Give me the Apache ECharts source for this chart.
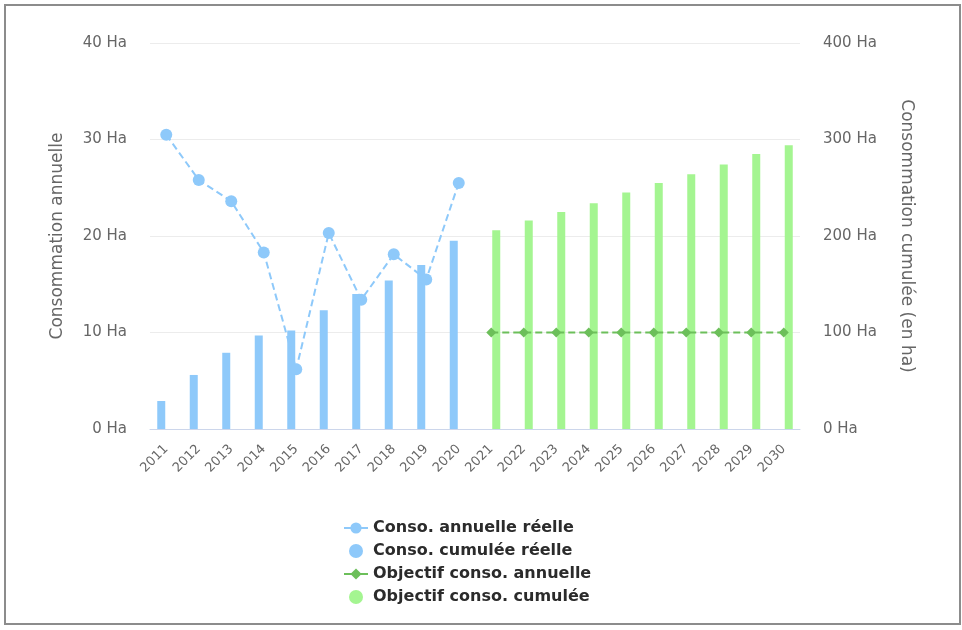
<!DOCTYPE html>
<html>
<head>
<meta charset="utf-8">
<script src="https://cdn.jsdelivr.net/npm/echarts@6/dist/echarts.min.js"></script>
<style>
  html, body { margin: 0; padding: 0; background: #fff; }
  #frame { position: absolute; left: 4px; top: 4px; width: 953px; height: 617px; border: 2px solid #8c8c8c; }
  #chart { position: absolute; left: 0; top: 0; width: 962px; height: 630px; }
</style>
</head>
<body>
<div id="frame"></div>
<div id="chart"></div>
<script>
// données
const years = ['2011','2012','2013','2014','2015','2016','2017','2018','2019','2020',
               '2021','2022','2023','2024','2025','2026','2027','2028','2029','2030'];
const annuelleReelle = [30.5, 25.8, 23.6, 18.3, 6.2, 20.3, 13.4, 18.1, 15.5, 25.5,
                        null, null, null, null, null, null, null, null, null, null];
const cumuleeReelle = [29, 56, 79, 97, 102, 123, 140, 154, 170, 195,
                       null, null, null, null, null, null, null, null, null, null];
const objectifAnnuelle = [null, null, null, null, null, null, null, null, null, null,
                          10, 10, 10, 10, 10, 10, 10, 10, 10, 10];
const objectifCumulee = [null, null, null, null, null, null, null, null, null, null,
                         206, 216, 225, 234, 245, 255, 264, 274, 285, 294];

const blue = '#8ec9fa';
const green = '#a4f591';
const greenLine = '#6cbf5a';
const labelColor = '#666';

const chart = echarts.init(document.getElementById('chart'));
const option = {
  animation: false,
  textStyle: { fontFamily: 'DejaVu Sans' },
  grid: { left: 150, right: 162, top: 43, bottom: 201 },
  legend: {
    orient: 'vertical',
    left: 338,
    top: 515,
    itemGap: 7,
    itemWidth: 24,
    itemHeight: 14,
    lineStyle: { type: 'solid' },
    textStyle: { fontSize: 16, fontWeight: 'bold', color: '#2b2b2b' },
    data: [
      { name: 'Conso. annuelle réelle' },
      { name: 'Conso. cumulée réelle', icon: 'circle' },
      { name: 'Objectif conso. annuelle' },
      { name: 'Objectif conso. cumulée', icon: 'circle' }
    ]
  },
  xAxis: {
    type: 'category',
    data: years,
    axisLine: { lineStyle: { color: '#ccd6eb' } },
    axisTick: { show: false },
    axisLabel: { rotate: 45, color: labelColor, fontSize: 13, interval: 0, margin: 18 }
  },
  yAxis: [
    {
      type: 'value', min: 0, max: 40, interval: 10,
      name: 'Consommation annuelle',
      nameLocation: 'middle', nameGap: 84,
      nameTextStyle: { color: labelColor, fontSize: 17 },
      axisLabel: { formatter: '{value} Ha', color: labelColor, fontSize: 15, margin: 23 },
      splitLine: { lineStyle: { color: '#ececec' } }
    },
    {
      type: 'value', min: 0, max: 400, interval: 100,
      name: 'Consommation cumulée (en ha)',
      nameLocation: 'middle', nameGap: 98, nameRotate: -90,
      nameTextStyle: { color: labelColor, fontSize: 17 },
      axisLabel: { formatter: '{value} Ha', color: labelColor, fontSize: 15, margin: 23 },
      splitLine: { show: false }
    }
  ],
  series: [
    {
      name: 'Conso. annuelle réelle', type: 'line', yAxisIndex: 0,
      data: annuelleReelle,
      symbol: 'circle', symbolSize: 12, z: 5,
      itemStyle: { color: blue },
      lineStyle: { color: blue, width: 2, type: [7, 4] }
    },
    {
      name: 'Conso. cumulée réelle', type: 'bar', yAxisIndex: 1,
      data: cumuleeReelle,
      barWidth: 8, barGap: '25%',
      itemStyle: { color: blue }
    },
    {
      name: 'Objectif conso. annuelle', type: 'line', yAxisIndex: 0,
      data: objectifAnnuelle,
      symbol: 'diamond', symbolSize: 10, z: 5,
      itemStyle: { color: greenLine },
      lineStyle: { color: greenLine, width: 2, type: [7, 4] }
    },
    {
      name: 'Objectif conso. cumulée', type: 'bar', yAxisIndex: 1,
      data: objectifCumulee,
      barWidth: 8, barGap: '25%',
      itemStyle: { color: green }
    }
  ]
};
chart.setOption(option);
</script>
</body>
</html>
